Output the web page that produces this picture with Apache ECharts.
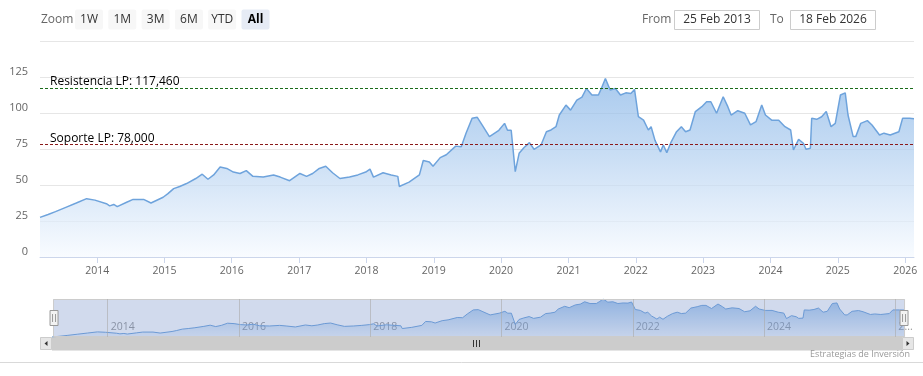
<!DOCTYPE html>
<html>
<head>
<meta charset="utf-8">
<script src="https://cdn.jsdelivr.net/npm/echarts@6/dist/echarts.min.js"></script>
<style>
html,body{margin:0;padding:0;background:#fff;}
#chart{width:923px;height:376px;}
</style>
</head>
<body>
<div id="chart"></div>
<script>
// ---- data ----
var dates = [
'2013-02-25','2013-04-10','2013-05-20','2013-07-15','2013-09-10','2013-11-05','2013-12-20',
'2014-02-20','2014-03-10','2014-04-01','2014-04-20','2014-06-10','2014-07-15','2014-09-10','2014-10-20','2014-12-25',
'2015-01-20','2015-02-20','2015-03-25','2015-05-01','2015-06-20','2015-07-25','2015-08-25','2015-09-25','2015-10-30','2015-12-05',
'2016-01-10','2016-02-15','2016-03-20','2016-04-25','2016-06-20','2016-08-15','2016-09-20','2016-11-10',
'2017-01-05','2017-02-10','2017-03-15','2017-04-20','2017-05-25','2017-07-01','2017-08-10','2017-10-01','2017-11-15','2017-12-28',
'2018-01-20','2018-02-08','2018-04-01','2018-05-15','2018-06-20','2018-06-28','2018-08-20','2018-10-15','2018-11-05','2018-12-08','2018-12-28',
'2019-02-05','2019-03-10','2019-04-30','2019-05-30','2019-06-25','2019-07-28','2019-08-25','2019-09-20','2019-10-30','2019-12-20',
'2020-01-20','2020-02-05','2020-02-25','2020-03-18','2020-04-08','2020-05-05','2020-06-03','2020-06-28','2020-08-05','2020-09-03','2020-09-28','2020-10-25','2020-11-12','2020-12-18',
'2021-01-12','2021-02-15','2021-03-15','2021-04-08','2021-05-08','2021-06-12','2021-06-28','2021-07-20','2021-08-15','2021-09-12','2021-10-10','2021-11-08','2021-12-05','2021-12-25',
'2022-01-15','2022-02-12','2022-03-10','2022-03-25','2022-04-15','2022-05-15','2022-05-30','2022-06-18','2022-07-12','2022-08-10','2022-09-05','2022-09-28','2022-10-22','2022-11-20','2022-12-25',
'2023-01-20','2023-02-12','2023-03-15','2023-04-20','2023-05-15','2023-06-02','2023-07-08','2023-08-15','2023-09-15','2023-10-15','2023-11-15','2023-12-05',
'2024-01-08','2024-02-15','2024-03-20','2024-04-20','2024-05-05','2024-06-02','2024-06-28','2024-07-12','2024-08-05','2024-08-12','2024-09-08','2024-10-05','2024-10-30','2024-11-25','2024-12-18',
'2025-01-15','2025-02-10','2025-02-25','2025-03-25','2025-04-08','2025-05-05','2025-06-10','2025-07-05','2025-08-15','2025-09-08','2025-10-12','2025-11-28','2025-12-18',
'2026-01-25','2026-02-18'
];
var prices = [
27.5,29.5,31.5,34.5,37.5,40.5,39.5,
37,35.5,36.5,35,38,40,40,37.5,41.5,
44,47.5,49,51,54.5,57.5,54,57,62.5,61.5,
59,58,60,56,55.5,57,55.5,53,
58,56,58,61.5,63,58.5,54.5,55.5,57,59,
61,55.5,58.5,57,56,49,52,57,67,66,63,
69,71,77,76.5,86,96.3,97,91.7,83.6,88,
92.8,88,88,59.3,72,76,79.4,74.8,77.8,87,88.2,90.5,98.6,105.5,
102,109,111,117,112.5,112.5,117,124,116,117,112.5,114,113.6,116.4,
97.4,95,88.2,90.5,81,73,77.8,72.5,80,87,90.5,87,88.2,101,104.4,
107.8,107.8,99.8,111.3,104.4,98.6,101.6,99.8,91.7,94,105.5,98.6,
95,95,90.5,88.2,74.3,81.7,79,74.8,75.5,96.3,95.6,97.4,101,90.5,92.8,
112.5,114,98.6,83.6,83.6,92.8,94.7,91.7,84.7,86,84.7,87,96.3,
96.3,96
];
var levelValues = [117.46, 78.0];
var levelLabels = ['Resistencia LP: 117,460', 'Soporte LP: 78,000'];
var levelColors = ['#1a6b1a', '#8b1a1a'];
var rangeStart = '2013-02-25';
var rangeEnd = '2026-02-18';
var navYears = ['2014-01-01','2016-01-01','2018-01-01','2020-01-01','2022-01-01','2024-01-01','2026-01-01'];
var zoomButtons = ['1W','1M','3M','6M','YTD','All'];
var fromText = '25 Feb 2013';
var toText = '18 Feb 2026';
var creditText = 'Estrategias de Inversión';

// ---- chart ----
var FONT = 'Open Sans, Liberation Sans, sans-serif';
var seriesData = dates.map(function (d, i) { return [d, prices[i]]; });
var YEAR = 365 * 24 * 3600 * 1000;

var chart = echarts.init(document.getElementById('chart'), null, {renderer: 'canvas'});

var graphics = [];
// range selector
graphics.push({type: 'text', style: {text: 'Zoom', x: 41, y: 19.5, fill: '#666', font: '12px ' + FONT, textVerticalAlign: 'middle', verticalAlign: 'middle'}});
zoomButtons.forEach(function (b, i) {
  var x = 75 + i * 33.3;
  var sel = (b === 'All');
  graphics.push({type: 'rect', shape: {x: x, y: 9.5, width: 28, height: 20, r: 2}, style: {fill: sel ? '#e6ebf5' : '#f7f7f7'}});
  graphics.push({type: 'text', style: {text: b, x: x + 14, y: 19.5, fill: sel ? '#000' : '#333', font: (sel ? 'bold ' : '') + '12px ' + FONT, textAlign: 'center', align: 'center', textVerticalAlign: 'middle', verticalAlign: 'middle'}});
});
graphics.push({type: 'text', style: {text: 'From', x: 642, y: 19.5, fill: '#666', font: '12px ' + FONT, textVerticalAlign: 'middle', verticalAlign: 'middle'}});
graphics.push({type: 'rect', shape: {x: 674.5, y: 10.5, width: 85, height: 19}, style: {fill: '#fff', stroke: '#cccccc', lineWidth: 1}});
graphics.push({type: 'text', style: {text: fromText, x: 717, y: 20, fill: '#333', font: '12px ' + FONT, textAlign: 'center', align: 'center', textVerticalAlign: 'middle', verticalAlign: 'middle'}});
graphics.push({type: 'text', style: {text: 'To', x: 770, y: 19.5, fill: '#666', font: '12px ' + FONT, textVerticalAlign: 'middle', verticalAlign: 'middle'}});
graphics.push({type: 'rect', shape: {x: 790.5, y: 10.5, width: 85, height: 19}, style: {fill: '#fff', stroke: '#cccccc', lineWidth: 1}});
graphics.push({type: 'text', style: {text: toText, x: 833, y: 20, fill: '#333', font: '12px ' + FONT, textAlign: 'center', align: 'center', textVerticalAlign: 'middle', verticalAlign: 'middle'}});
// scrollbar
graphics.push({type: 'rect', shape: {x: 40, y: 337, width: 874, height: 13}, style: {fill: '#f2f2f2'}});
graphics.push({type: 'rect', shape: {x: 52, y: 337, width: 850, height: 13}, style: {fill: '#cccccc', stroke: '#cccccc'}});
graphics.push({type: 'rect', shape: {x: 40.5, y: 337.5, width: 11, height: 12}, style: {fill: '#e6e6e6', stroke: '#cccccc'}});
graphics.push({type: 'rect', shape: {x: 902.5, y: 337.5, width: 11, height: 12}, style: {fill: '#e6e6e6', stroke: '#cccccc'}});
graphics.push({type: 'polygon', shape: {points: [[47.5, 341], [47.5, 346], [44.5, 343.5]]}, style: {fill: '#333'}});
graphics.push({type: 'polygon', shape: {points: [[906.5, 341], [906.5, 346], [909.5, 343.5]]}, style: {fill: '#333'}});
[473.5, 476.5, 479.5].forEach(function (gx) {
  graphics.push({type: 'line', shape: {x1: gx, y1: 340, x2: gx, y2: 347}, style: {stroke: '#333', lineWidth: 1}});
});
// credit & bottom line
graphics.push({type: 'text', style: {text: creditText, x: 910, y: 354, fill: '#999', font: '9px ' + FONT, textAlign: 'right', align: 'right', textVerticalAlign: 'middle', verticalAlign: 'middle'}});
graphics.push({type: 'line', shape: {x1: 0, y1: 362.5, x2: 923, y2: 362.5}, style: {stroke: '#d9d9d9', lineWidth: 1}});

var option = {
  animation: false,
  backgroundColor: '#fff',
  textStyle: {fontFamily: FONT},
  grid: [
    {left: 40, right: 9, top: 41, height: 216, containLabel: false},
    {left: 52, right: 19, top: 299, height: 38, containLabel: false}
  ],
  xAxis: [
    {
      type: 'time', gridIndex: 0, min: rangeStart, max: rangeEnd,
      minInterval: YEAR, maxInterval: YEAR * 1.01, splitNumber: 13,
      axisLine: {lineStyle: {color: '#ccd6eb'}},
      axisTick: {show: true, length: 6, lineStyle: {color: '#ccd6eb'}},
      axisLabel: {color: '#666', fontSize: 10.5, margin: 9, fontFamily: FONT,
        formatter: function (v) { return String(new Date(v).getFullYear()); }},
      splitLine: {show: false}
    },
    {
      type: 'time', gridIndex: 1, min: rangeStart, max: rangeEnd,
      minInterval: YEAR, maxInterval: YEAR * 1.01, splitNumber: 13,
      axisLine: {show: false}, axisTick: {show: false},
      axisLabel: {inside: true, color: '#999', fontSize: 10.5, margin: 4, align: 'left', padding: [0, 0, 0, 3], fontFamily: FONT,
        formatter: function (v) {
          var y = new Date(v).getFullYear();
          if (y % 2 !== 0) return '';
          if (y === 2026) return '2...';
          return String(y);
        }},
      splitLine: {show: false}
    }
  ],
  yAxis: [
    {
      type: 'value', gridIndex: 0, min: 0, max: 150, interval: 25,
      axisLine: {show: false}, axisTick: {show: false},
      axisLabel: {color: '#666', fontSize: 11, margin: 12, showMaxLabel: false, verticalAlign: 'bottom', fontFamily: FONT},
      splitLine: {lineStyle: {color: '#e6e6e6', width: 1}}
    },
    {
      type: 'value', gridIndex: 1, min: 'dataMin', max: 'dataMax', scale: true,
      show: false, splitLine: {show: false}
    }
  ],
  dataZoom: [{
    type: 'slider', xAxisIndex: 0, start: 0, end: 100,
    left: 52, right: 19, top: 299, height: 38,
    showDataShadow: false, showDetail: false, brushSelect: false,
    moveHandleSize: 0,
    backgroundColor: 'rgba(0,0,0,0)',
    borderColor: '#cccccc',
    fillerColor: 'rgba(102,133,194,0.3)',
    handleIcon: 'path://M-4,-7.5L4,-7.5L4,7.5L-4,7.5Z M-1.5,-4L-1.5,4 M1.5,-4L1.5,4',
    handleSize: 15,
    handleStyle: {color: '#f2f2f2', borderColor: '#999999', borderWidth: 1},
    emphasis: {handleStyle: {color: '#f2f2f2', borderColor: '#999999'}},
    textStyle: {color: 'rgba(0,0,0,0)'}
  }],
  series: [
    {
      type: 'line', xAxisIndex: 0, yAxisIndex: 0, data: seriesData,
      symbol: 'none', smooth: false,
      lineStyle: {color: '#6ea3dc', width: 1.5},
      areaStyle: {color: new echarts.graphic.LinearGradient(0, 41, 0, 257, [
        {offset: 0, color: '#6ea6e2'},
        {offset: 0.5, color: '#aecdef'},
        {offset: 1, color: '#f6faff'}
      ], true)},
      markLine: {
        silent: true, symbol: 'none',
        data: levelValues.map(function (v, i) {
          return {
            yAxis: v,
            lineStyle: {color: levelColors[i], type: [3, 2], width: 1},
            label: {show: true, formatter: levelLabels[i], position: 'insideStartTop', color: '#000', fontSize: 12, fontFamily: FONT, distance: [10, 0]}
          };
        })
      },
      z: 2
    },
    {
      type: 'line', xAxisIndex: 1, yAxisIndex: 1, data: seriesData,
      symbol: 'none',
      lineStyle: {color: '#6ea3dc', width: 1},
      areaStyle: {color: new echarts.graphic.LinearGradient(0, 0, 0, 1, [
        {offset: 0, color: 'rgba(110,166,226,0.9)'},
        {offset: 1, color: 'rgba(110,166,226,0.15)'}
      ])},
      markLine: {
        silent: true, symbol: 'none', label: {show: false},
        lineStyle: {color: 'rgba(170,170,170,0.6)', type: 'solid', width: 1},
        data: navYears.map(function (d) { return {xAxis: d}; })
      }
    }
  ],
  graphic: graphics
};
chart.setOption(option);
</script>
</body>
</html>
